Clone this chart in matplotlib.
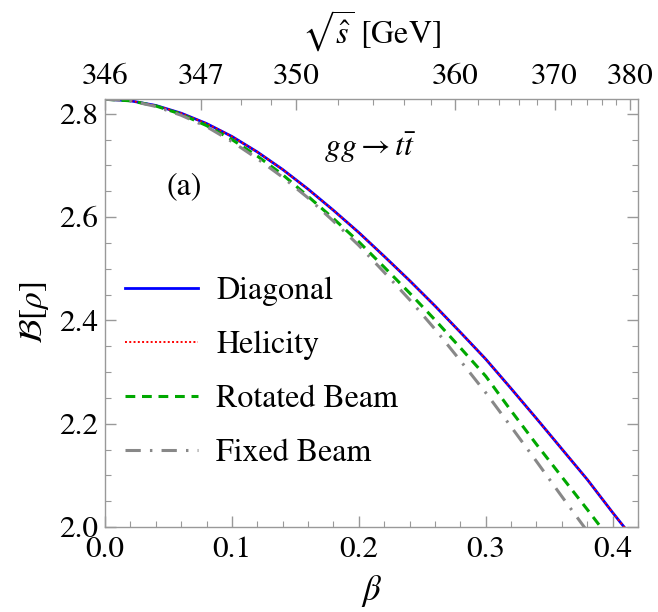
import numpy as np
from matplotlib import pyplot as plt
from matplotlib.ticker import MultipleLocator, FixedLocator

plt.rcParams['font.family'] = ['STIXGeneral', 'DejaVu Serif']
plt.rcParams['mathtext.fontset'] = 'stix'

# values
beta = [0.00, 0.02, 0.04, 0.06, 0.08, 0.10, 0.12, 0.14, 0.16, 0.18, 0.20,
        0.22, 0.24, 0.26, 0.28, 0.30, 0.32, 0.34, 0.36, 0.38, 0.40, 0.41]
diagonal = [2.828, 2.825, 2.816, 2.801, 2.781, 2.756, 2.726, 2.692, 2.654, 2.613, 2.570,
            2.524, 2.477, 2.428, 2.377, 2.325, 2.268, 2.210, 2.151, 2.092, 2.028, 1.997]
helicity = [2.828, 2.825, 2.816, 2.801, 2.781, 2.756, 2.726, 2.692, 2.654, 2.613, 2.570,
            2.524, 2.477, 2.428, 2.377, 2.325, 2.268, 2.210, 2.151, 2.092, 2.028, 1.997]
rotated_beam = [2.828, 2.825, 2.815, 2.799, 2.777, 2.750, 2.718, 2.682, 2.640, 2.597, 2.552,
                2.503, 2.453, 2.401, 2.347, 2.292, 2.225, 2.160, 2.097, 2.034, 1.970, 1.940]
fixed_beam = [2.828, 2.825, 2.814, 2.797, 2.775, 2.746, 2.713, 2.677, 2.637, 2.592, 2.545,
              2.493, 2.440, 2.383, 2.322, 2.260, 2.194, 2.127, 2.059, 1.992, 1.925, 1.890]
labels = ['Diagonal', 'Helicity', 'Rotated Beam', 'Fixed Beam']

sqrt_s_major = [346, 347, 350, 360, 370, 380]
sqrt_s_minor = [348, 349, 352, 354, 356, 358, 362, 364, 366, 368, 372, 374, 376, 378]
threshold = 346.0


def beta_of(sqrt_s):
    s = np.asarray(sqrt_s, dtype=float)
    return np.sqrt(1 - (threshold / s) ** 2)


fig = plt.figure(figsize=(6.58, 6.12), dpi=100)
ax = fig.add_axes([0.1596, 0.1389, 0.81, 0.6993])

ax.plot(beta, diagonal, color='#0000ff', lw=2.0, label=labels[0])
ax.plot(beta, helicity, color='#ff0000', lw=1.4, ls=(0, (1, 1.2)), label=labels[1])
ax.plot(beta, rotated_beam, color='#00a800', lw=2.2, ls=(0, (3.2, 2.2)), label=labels[2])
ax.plot(beta, fixed_beam, color='#888888', lw=2.2, ls=(0, (5, 3, 0.8, 3)), label=labels[3])

ax.set_xlim(0, 0.42)
ax.set_ylim(2.0, 2 * np.sqrt(2))

ax.xaxis.set_major_locator(MultipleLocator(0.1))
ax.xaxis.set_minor_locator(MultipleLocator(0.02))
ax.yaxis.set_major_locator(MultipleLocator(0.2))
ax.yaxis.set_minor_locator(MultipleLocator(0.05))
ax.xaxis.set_major_formatter(plt.FuncFormatter(lambda v, p: f'{v:.1f}'))
ax.yaxis.set_major_formatter(plt.FuncFormatter(lambda v, p: f'{v:.1f}'))

for sp in ax.spines.values():
    sp.set_color('#999999')
    sp.set_linewidth(1.0)

ax.tick_params(which='both', direction='in', color='#999999', top=False, right=True,
               labelsize=22.5, labelcolor='black')
ax.tick_params(which='major', length=8, width=1.0)
ax.tick_params(which='minor', length=4.5, width=0.8)
ax.tick_params(axis='x', pad=7)
ax.tick_params(axis='y', pad=5)

ax.set_xlabel(r'$\beta$', fontsize=25, labelpad=6)
ax.set_ylabel(r'$\mathcal{B}[\rho]$', fontsize=24, labelpad=6)

# top axis in sqrt(s)
top = ax.twiny()
top.set_xlim(ax.get_xlim())
top.xaxis.set_major_locator(FixedLocator(beta_of(sqrt_s_major)))
top.xaxis.set_minor_locator(FixedLocator(beta_of(sqrt_s_minor)))
top.set_xticklabels([str(v) for v in sqrt_s_major])
top.tick_params(which='both', direction='in', color='#999999', labelsize=22.5, pad=6)
top.tick_params(which='major', length=8, width=1.0)
top.tick_params(which='minor', length=4.5, width=0.8)
for sp in top.spines.values():
    sp.set_visible(False)
top.set_xlabel(r'$\sqrt{\hat{s}}$ [GeV]', fontsize=23, labelpad=14)

ax.text(0.209, 2.734, r'$gg \rightarrow t\bar{t}$', fontsize=23, ha='center', va='center')
ax.text(0.062, 2.660, '(a)', fontsize=23, ha='center', va='center')

ax.legend(loc='upper left', bbox_to_anchor=(0.0375, 0.584), frameon=False, fontsize=23,
          handlelength=2.3, handletextpad=0.55, labelspacing=0.77, borderpad=0,
          borderaxespad=0)

plt.savefig('out.png', dpi=100)
